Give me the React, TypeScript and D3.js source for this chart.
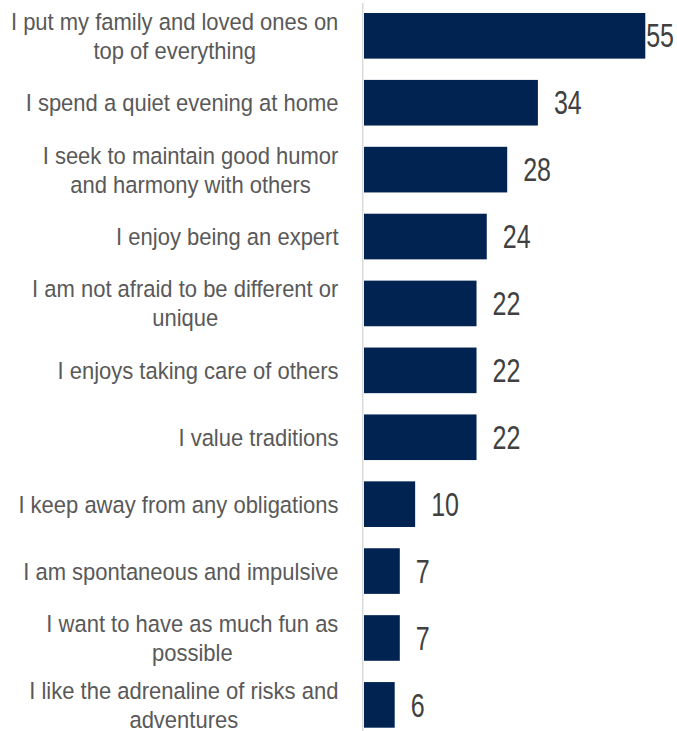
import React from "react";
import * as d3 from "d3";

const categories: string[] = [
  "I put my family and loved ones on\ntop of everything",
  "I spend a quiet evening at home",
  "I seek to maintain good humor\nand harmony with others",
  "I enjoy being an expert",
  "I am not afraid to be different or\nunique",
  "I enjoys taking care of others",
  "I value traditions",
  "I keep away from any obligations",
  "I am spontaneous and impulsive",
  "I want to have as much fun as\npossible",
  "I like the adrenaline of risks and\nadventures",
];
const values: number[] = [55, 34, 28, 24, 22, 22, 22, 10, 7, 7, 6];

const W = 677;
const H = 731;
const BAR = "#002352";
const TEXT = "#595959";
const FONT = "'Liberation Sans', Arial, sans-serif";

let ctx: CanvasRenderingContext2D | null = null;
function measure(s: string, size: number): number {
  if (!ctx) {
    const c = document.createElement("canvas");
    ctx = c.getContext("2d");
  }
  if (!ctx) return s.length * size * 0.5;
  ctx.font = `${size}px 'Liberation Sans', Arial, sans-serif`;
  return ctx.measureText(s).width;
}

export default function App() {
  const y = d3
    .scaleBand<string>()
    .domain(categories)
    .range([13, 727.7])
    .paddingInner(0.318)
    .paddingOuter(0);
  const x = d3.scaleLinear().domain([0, 55]).range([364, 645.3]);

  const labelSize = 22;
  const labelSY = 1.08;
  const lineGap = 29 / labelSY;
  const valueSize = 25;
  const valueSY = 1.3;
  const labelRight = 338.5;

  return (
    <svg
      width={W}
      height={H}
      style={{ position: "absolute", left: 0, top: 0, background: "#fff" }}
      fontFamily={FONT}
    >
      <rect x={0} y={0} width={W} height={H} fill="#fff" />
      {categories.map((c, i) => {
        const yy = y(c)!;
        const bw = y.bandwidth();
        const cy = yy + bw / 2;
        const v = values[i];
        const xe = x(v);
        const txt = String(v);
        const tw = measure(txt, valueSize);
        const vx = Math.min(xe + 16, W - 3 - tw);
        const lines = c.split("\n");
        const maxW = Math.max(...lines.map((l) => measure(l, labelSize)));
        const lx = lines.length > 1 ? labelRight - maxW / 2 : labelRight;
        const anchor = lines.length > 1 ? "middle" : "end";
        const capOff = (0.716 * labelSize) / 2;
        return (
          <g key={c}>
            <rect x={x(0)} y={yy} width={xe - x(0)} height={bw} fill={BAR} />
            <g transform={`translate(${lx}, ${cy}) scale(1, ${labelSY})`}>
              <text fontSize={labelSize} fill={TEXT} textAnchor={anchor}>
                {lines.map((l, k) => (
                  <tspan
                    key={k}
                    x={0}
                    y={(k - (lines.length - 1) / 2) * lineGap + capOff}
                  >
                    {l}
                  </tspan>
                ))}
              </text>
            </g>
            <g transform={`translate(${vx}, ${cy}) scale(1, ${valueSY})`}>
              <text fontSize={valueSize} fill={"#404040"} y={(0.716 * valueSize) / 2}>
                {txt}
              </text>
            </g>
          </g>
        );
      })}
      <line x1={362.7} x2={362.7} y1={3} y2={H} stroke="#d9d9d9" strokeWidth={1.5} />
    </svg>
  );
}
